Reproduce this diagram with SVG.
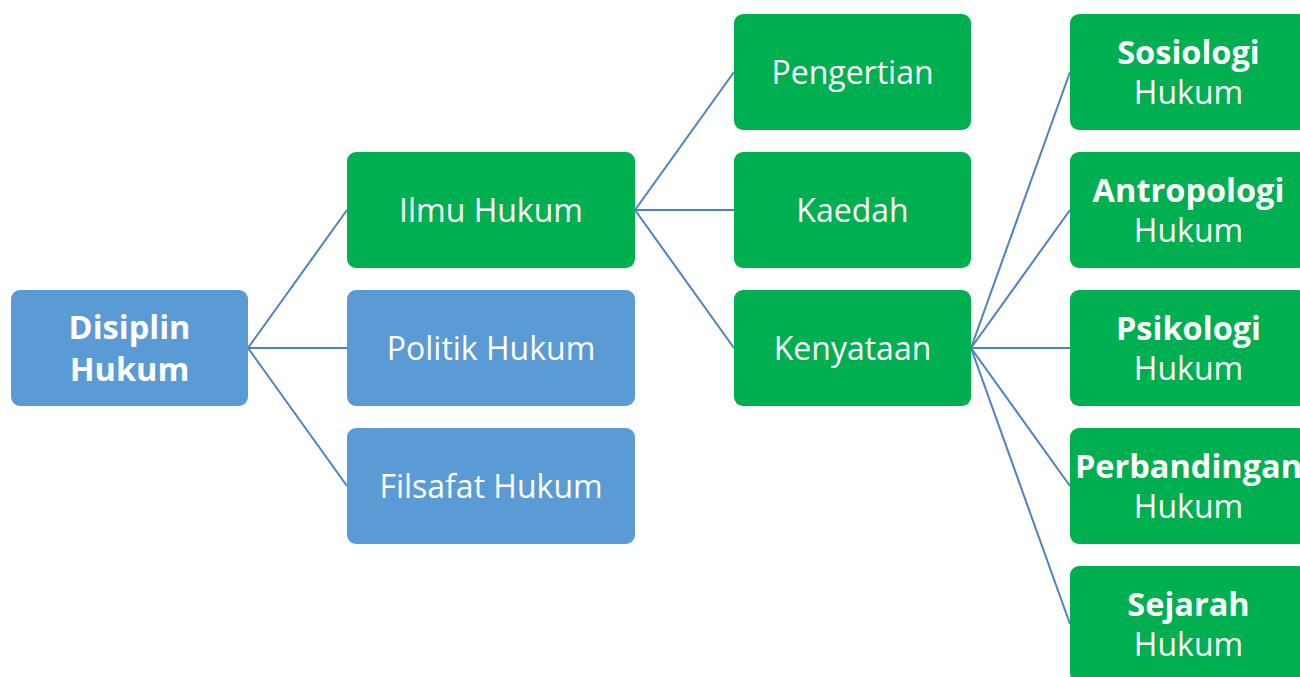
<svg xmlns="http://www.w3.org/2000/svg" width="1300" height="677" viewBox="0 0 1300 677">
<style>
.b{fill:#5B9BD5}
.g{fill:#00B050}
text{font-family:"Open Sans","Noto Sans",sans-serif;fill:#fff;text-anchor:middle;font-size:32px}
.h{font-size:32.5px;font-weight:bold}
.c line{stroke:#4F81BD;stroke-width:2}
</style>
<rect width="1300" height="677" fill="#fff"/>
<g class="c" id="connectors">
<line x1="248" y1="348" x2="347" y2="210"/>
<line x1="248" y1="348" x2="347" y2="348"/>
<line x1="248" y1="348" x2="347" y2="486"/>
<line x1="635" y1="210" x2="734" y2="72"/>
<line x1="635" y1="210" x2="734" y2="210"/>
<line x1="635" y1="210" x2="734" y2="348"/>
<line x1="971" y1="348" x2="1070" y2="72"/>
<line x1="971" y1="348" x2="1070" y2="210"/>
<line x1="971" y1="348" x2="1070" y2="348"/>
<line x1="971" y1="348" x2="1070" y2="486"/>
<line x1="971" y1="348" x2="1070" y2="624"/>
</g>
<g id="disiplin"><rect class="b" x="11" y="290" width="237" height="116" rx="9"/><text class="h" x="129.5" y="339" font-size="32">Disiplin</text><text class="h" x="129.5" y="381" font-size="32">Hukum</text></g>
<g id="ilmu"><rect class="g" x="347" y="152" width="288" height="116" rx="9"/><text x="491" y="222">Ilmu Hukum</text></g>
<g id="politik"><rect class="b" x="347" y="290" width="288" height="116" rx="9"/><text x="491" y="360">Politik Hukum</text></g>
<g id="filsafat"><rect class="b" x="347" y="428" width="288" height="116" rx="9"/><text x="491" y="498">Filsafat Hukum</text></g>
<g id="pengertian"><rect class="g" x="734" y="14" width="237" height="116" rx="9"/><text x="852.5" y="84">Pengertian</text></g>
<g id="kaedah"><rect class="g" x="734" y="152" width="237" height="116" rx="9"/><text x="852.5" y="222">Kaedah</text></g>
<g id="kenyataan"><rect class="g" x="734" y="290" width="237" height="116" rx="9"/><text x="852.5" y="360">Kenyataan</text></g>
<g id="sosiologi"><rect class="g" x="1070" y="14" width="237" height="116" rx="9"/><text><tspan class="h" x="1188.5" y="64">Sosiologi</tspan><tspan x="1188.5" y="104">Hukum</tspan></text></g>
<g id="antropologi"><rect class="g" x="1070" y="152" width="237" height="116" rx="9"/><text><tspan class="h" x="1188.5" y="202">Antropologi</tspan><tspan x="1188.5" y="242">Hukum</tspan></text></g>
<g id="psikologi"><rect class="g" x="1070" y="290" width="237" height="116" rx="9"/><text><tspan class="h" x="1188.5" y="340">Psikologi</tspan><tspan x="1188.5" y="380">Hukum</tspan></text></g>
<g id="perbandingan"><rect class="g" x="1070" y="428" width="237" height="116" rx="9"/><text><tspan class="h" x="1188.5" y="478">Perbandingan</tspan><tspan x="1188.5" y="518">Hukum</tspan></text></g>
<g id="sejarah"><rect class="g" x="1070" y="566" width="237" height="116" rx="9"/><text><tspan class="h" x="1188.5" y="616">Sejarah</tspan><tspan x="1188.5" y="656">Hukum</tspan></text></g>
</svg>
